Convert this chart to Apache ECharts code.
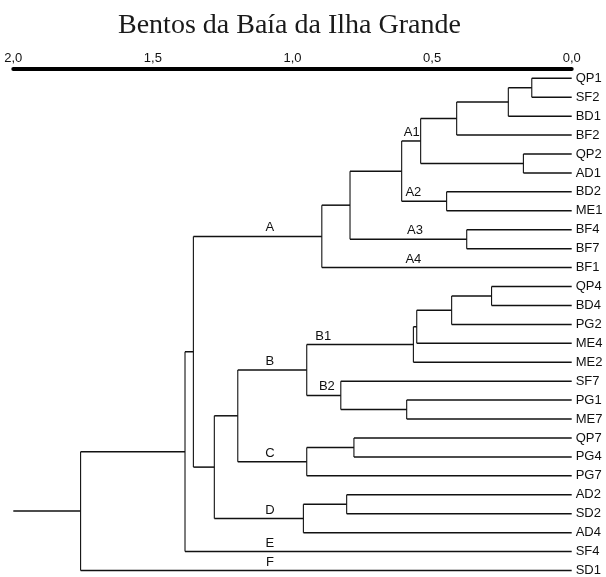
<!DOCTYPE html>
<html>
<head>
<meta charset="utf-8">
<script src="https://cdn.jsdelivr.net/npm/echarts@6/dist/echarts.min.js"></script>
<style>
html,body{margin:0;padding:0;background:#fff;}
#chart{width:606px;height:577px;}
</style>
</head>
<body>
<div id="chart"></div>
<script>
// folhas, de cima para baixo
var leaves = ['QP1','SF2','BD1','BF2','QP2','AD1','BD2','ME1','BF4','BF7','BF1',
	'QP4','BD4','PG2','ME4','ME2','SF7','PG1','ME7','QP7','PG4','PG7',
	'AD2','SD2','AD4','SF4','SD1'];

// fusoes: [filho 1, filho 2, distancia]; 'nX' = fusao X
var merges = [
	['QP1','SF2',0.143],  // n0
	['n0','BD1',0.227],   // n1
	['n1','BF2',0.412],   // n2
	['QP2','AD1',0.173],  // n3
	['n2','n3',0.541],    // n4  A1
	['BD2','ME1',0.448],  // n5  A2
	['n4','n5',0.609],    // n6
	['BF4','BF7',0.376],  // n7  A3
	['n6','n7',0.794],    // n8
	['n8','BF1',0.895],   // n9  A
	['QP4','BD4',0.287],  // n10
	['n10','PG2',0.430],  // n11
	['n11','ME4',0.555],  // n12
	['n12','ME2',0.567],  // n13 B1
	['PG1','ME7',0.591],  // n14
	['SF7','n14',0.827],  // n15 B2
	['n13','n15',0.949],  // n16 B
	['QP7','PG4',0.780],  // n17
	['n17','PG7',0.949],  // n18 C
	['n16','n18',1.196],  // n19
	['AD2','SD2',0.806],  // n20
	['n20','AD4',0.961],  // n21 D
	['n19','n21',1.280],  // n22
	['n9','n22',1.355],   // n23
	['n23','SF4',1.385],  // n24
	['n24','SD1',1.759]   // n25
];

// rotulos dos grupos: [texto, no, distancia onde fica o texto]
var clusterTags = [
	['A1','n4',0.573], ['A2','n5',0.567], ['A3','n7',0.561], ['A4','BF1',0.567],
	['A','n9',1.081], ['B1','n13',0.890], ['B2','n15',0.877], ['B','n16',1.081],
	['C','n18',1.081], ['D','n21',1.081], ['E','SF4',1.081], ['F','SD1',1.081]
];

var axisTicks = [0, 0.5, 1.0, 1.5, 2.0];
var axisMax = 2.0;

// posicao de cada no (altura, indice vertical)
var pos = {};
leaves.forEach(function(n, i){ pos[n] = {h: 0, y: i}; });
merges.forEach(function(m, i){
	var a = pos[m[0]], b = pos[m[1]];
	pos['n'+i] = {h: m[2], y: (a.y + b.y) / 2};
});

// segmentos do dendrograma
var segs = [];
merges.forEach(function(m, i){
	var a = pos[m[0]], b = pos[m[1]], h = m[2];
	segs.push([a.h, a.y, h, a.y, 1.5]);
	segs.push([b.h, b.y, h, b.y, 1.5]);
	segs.push([h, a.y, h, b.y, 1.1]);
});
var root = pos['n'+(merges.length-1)];
segs.push([root.h, root.y, axisMax, root.y, 1.5]);

var tagData = clusterTags.map(function(t){ return [t[2], pos[t[1]].y, t[0]]; });

var leafIdx = leaves.map(function(n, i){ return i; });

var chart = echarts.init(document.getElementById('chart'));
chart.setOption({
	animation: false,
	title: {
		text: 'Bentos da Baía da Ilha Grande',
		left: 118,
		top: 12,
		padding: 0,
		textStyle: {fontFamily: 'Liberation Serif', fontSize: 28, fontWeight: 'normal', color: '#1a1a1a'}
	},
	grid: {left: 13.3, right: 34.3, top: 68.8, bottom: 6},
	xAxis: {
		type: 'value',
		min: 0, max: axisMax, interval: 0.5,
		inverse: true,
		position: 'top',
		axisLine: {show: true, onZero: false, lineStyle: {color: '#000', width: 4}},
		axisTick: {show: true, length: 2, inside: true, lineStyle: {color: '#000', width: 1}},
		axisLabel: {
			margin: 4,
			fontFamily: 'Liberation Sans', fontSize: 13, color: '#111',
			formatter: function(v){ return axisTicks.indexOf(v) >= 0 ? v.toFixed(1).replace('.', ',') : ''; }
		},
		splitLine: {show: false}
	},
	yAxis: {
		type: 'value',
		min: -0.5, max: leaves.length - 1,
		inverse: true,
		position: 'right',
		axisLine: {show: false, onZero: false},
		axisTick: {show: false},
		splitLine: {show: false},
		axisLabel: {
			margin: 4,
			customValues: leafIdx,
			fontFamily: 'Liberation Sans', fontSize: 13, color: '#111',
			formatter: function(v){ return leaves[v] || ''; }
		}
	},
	series: [
		{
			type: 'custom',
			data: segs,
			renderItem: function(params, api){
				var p1 = api.coord([api.value(0), api.value(1)]);
				var p2 = api.coord([api.value(2), api.value(3)]);
				return {
					type: 'line',
					shape: {x1: p1[0], y1: p1[1], x2: p2[0], y2: p2[1]},
					style: {stroke: '#111', lineWidth: api.value(4)}
				};
			}
		},
		{
			type: 'custom',
			data: tagData,
			renderItem: function(params, api){
				var p = api.coord([api.value(0), api.value(1)]);
				return {
					type: 'text',
					x: p[0], y: p[1] - 8.5,
					style: {
						text: tagData[params.dataIndex][2],
						fill: '#111',
						font: '13px "Liberation Sans"',
						align: 'center',
						verticalAlign: 'middle'
					}
				};
			}
		}
	]
});
</script>
</body>
</html>
